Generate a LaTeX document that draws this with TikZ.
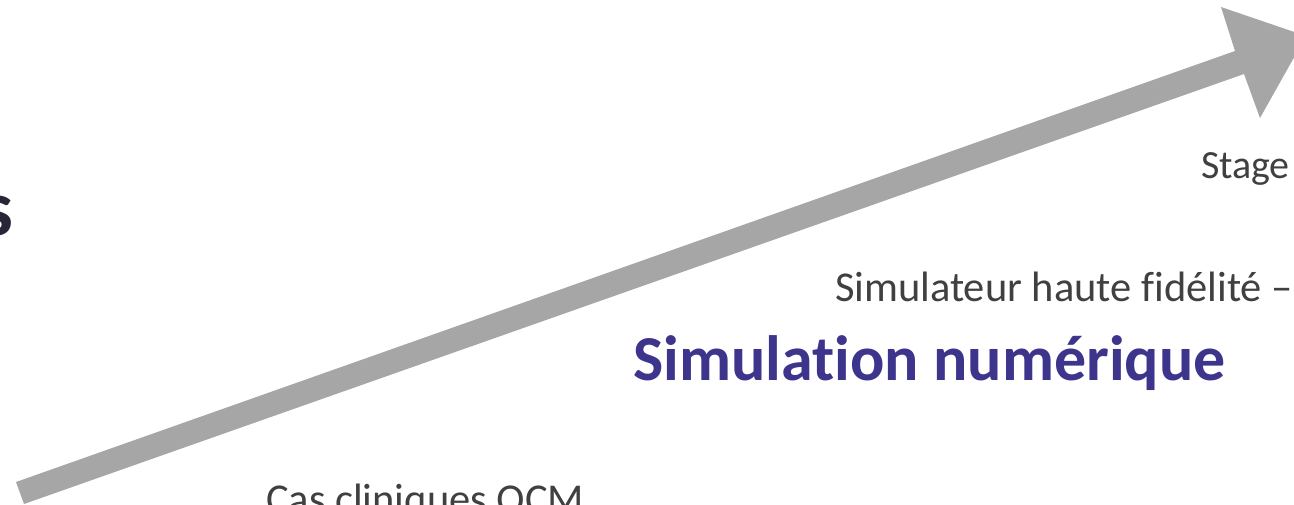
\documentclass[tikz,border=0pt]{standalone}
\usepackage{fontspec}
\setmainfont{Carlito}[Ligatures=NoCommon]
\definecolor{arrowgray}{HTML}{A6A6A6}
\definecolor{txtgray}{HTML}{404040}
\definecolor{purp}{HTML}{3D348B}
\definecolor{darkt}{HTML}{262636}
\tikzset{
  lbl/.style={inner sep=0pt, outer sep=0pt, anchor=base west, text=txtgray},
}
\begin{document}
\begin{tikzpicture}[x=1pt,y=-1pt]
\useasboundingbox (0,0) rectangle (1294,504);
\clip (0,0) rectangle (1294,504);
\fill[arrowgray] (16,482) -- (1235,51) -- (1221,7) -- (1306,36) -- (1260,118) -- (1244,74) -- (24,504) -- cycle;
\node[lbl, anchor=base east, text=darkt, font=\fontsize{80}{90}\selectfont\bfseries] (s) at (13,235) {s};
\node[lbl, font=\fontsize{40}{46}\selectfont] (stage) at (1201,178) {Stage};
\node[lbl, font=\fontsize{42.5}{50}\selectfont] (simu) at (835,301) {Simulateur haute fidélité\hspace{10pt}–};
\node[lbl, text=purp, font=\fontsize{64}{75}\selectfont\bfseries] (num) at (633,380) {Simulation numérique};
\node[lbl, font=\fontsize{42.5}{50}\selectfont] (cas) at (266,513) {Cas cliniques QCM};
\end{tikzpicture}
\end{document}
